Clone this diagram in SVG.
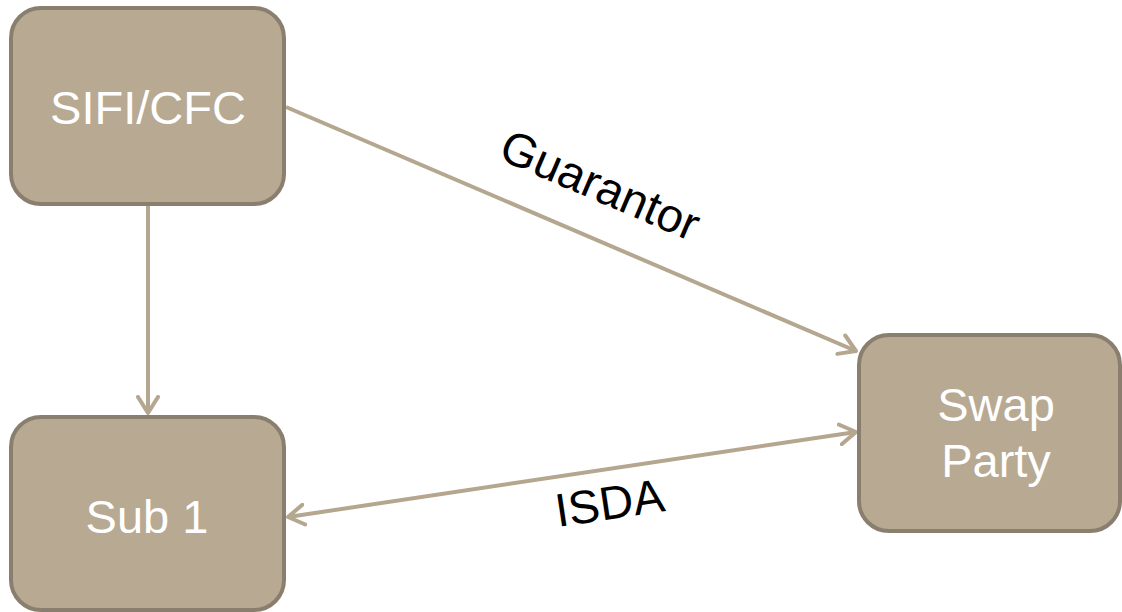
<svg xmlns="http://www.w3.org/2000/svg" width="1122" height="612" viewBox="0 0 1122 612">
<style>
.box{fill:#b8a993;stroke:#8a7f6e;stroke-width:4}
.nt{font-family:"Liberation Sans",Arial,sans-serif;font-size:47px;fill:#ffffff;text-anchor:middle}
.lt{font-family:"Liberation Sans",Arial,sans-serif;font-size:47px;fill:#000000;text-anchor:middle}
.con{stroke:#b5a68f;stroke-width:4;fill:none}
</style>
<defs>
<marker id="arr" markerUnits="userSpaceOnUse" viewBox="0 0 20 24" refX="18" refY="12" markerWidth="20" markerHeight="24" orient="auto-start-reverse">
<path d="M2,2 L18,12 L2,22" fill="none" stroke="#b5a68f" stroke-width="4" stroke-linecap="round" stroke-linejoin="round"/>
</marker>
</defs>
<g id="connectors">
<line class="con" x1="148" y1="206" x2="148" y2="413" marker-end="url(#arr)"/>
<line class="con" x1="286" y1="107" x2="856" y2="351" marker-end="url(#arr)"/>
<line class="con" x1="288" y1="517" x2="856" y2="432" marker-start="url(#arr)" marker-end="url(#arr)"/>
<text class="lt" x="594" y="200" transform="rotate(23.2 594 200)">Guarantor</text>
<text class="lt" x="612" y="519" transform="rotate(-8.5 612 519)">ISDA</text>
</g>
<g id="sifi">
<rect class="box" x="11" y="8" width="273" height="196" rx="30"/>
<text class="nt" x="148" y="124">SIFI/CFC</text>
</g>
<g id="sub1">
<rect class="box" x="11" y="417" width="273" height="193" rx="30"/>
<text class="nt" x="147" y="533">Sub 1</text>
</g>
<g id="swap">
<rect class="box" x="859" y="335" width="261" height="196" rx="30"/>
<text class="nt" x="996" y="421">Swap</text>
<text class="nt" x="996" y="477">Party</text>
</g>
</svg>
